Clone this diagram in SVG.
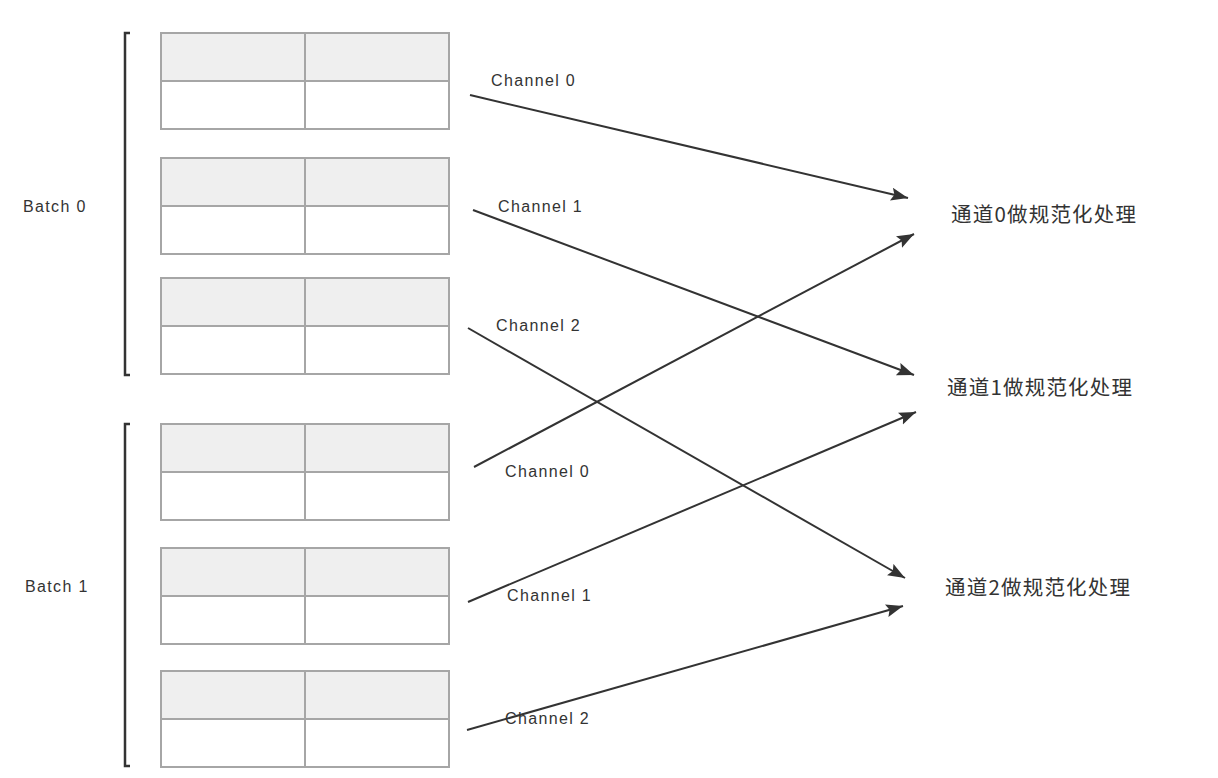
<svg xmlns="http://www.w3.org/2000/svg" width="1218" height="778" viewBox="0 0 1218 778">
<style>
.cell{stroke:#a6a6a6;stroke-width:2;}
.hd{fill:#efefef;}
.bd{fill:#ffffff;}
.br{fill:none;stroke:#333;stroke-width:2.5;}
.lab{font-family:"Helvetica","Liberation Sans",Arial,sans-serif;font-size:16px;letter-spacing:1.35px;fill:#333;}
.cn{font-family:"Noto Sans CJK SC","Noto Sans",sans-serif;font-size:20.5px;letter-spacing:1.2px;fill:#333;}
.ar{stroke:#333;stroke-width:2;fill:none;marker-end:url(#ah);}
</style>
<defs>
<marker id="ah" markerUnits="userSpaceOnUse" markerWidth="20" markerHeight="16" refX="17" refY="6.5" orient="auto">
<path d="M0,0 L17,6.5 L0,13 L3,6.5 Z" fill="#333"/>
</marker>
<g id="grid">
<rect class="cell hd" x="161" y="0" width="144" height="48"/>
<rect class="cell hd" x="305" y="0" width="144" height="48"/>
<rect class="cell bd" x="161" y="48" width="144" height="48"/>
<rect class="cell bd" x="305" y="48" width="144" height="48"/>
</g>
</defs>
<rect width="1218" height="778" fill="#fff"/>
<g id="batch0">
<path class="br" d="M130,33 L125,33 L125,375 L130,375"/>
<text class="lab" x="23" y="212">Batch 0</text>
</g>
<g id="batch1">
<path class="br" d="M130,424 L125,424 L125,766 L130,766"/>
<text class="lab" x="25" y="592">Batch 1</text>
</g>
<g id="b0c0"><use href="#grid" y="33"/></g>
<g id="b0c1"><use href="#grid" y="158"/></g>
<g id="b0c2"><use href="#grid" y="278"/></g>
<g id="b1c0"><use href="#grid" y="424"/></g>
<g id="b1c1"><use href="#grid" y="548"/></g>
<g id="b1c2"><use href="#grid" y="671"/></g>
<g id="norm0"><text class="cn" x="951" y="222">通道0做规范化处理</text></g>
<g id="norm1"><text class="cn" x="947" y="395">通道1做规范化处理</text></g>
<g id="norm2"><text class="cn" x="945" y="595">通道2做规范化处理</text></g>
<g id="connectors">
<line class="ar" x1="470" y1="95" x2="908" y2="198"/>
<line class="ar" x1="473" y1="210" x2="914" y2="375"/>
<line class="ar" x1="468" y1="328" x2="905" y2="578"/>
<line class="ar" x1="474" y1="467" x2="914" y2="234"/>
<line class="ar" x1="468" y1="602" x2="916" y2="412"/>
<line class="ar" x1="467" y1="730" x2="903" y2="606"/>
<text class="lab" x="491" y="86">Channel 0</text>
<text class="lab" x="498" y="212">Channel 1</text>
<text class="lab" x="496" y="331">Channel 2</text>
<text class="lab" x="505" y="477">Channel 0</text>
<text class="lab" x="507" y="601">Channel 1</text>
<text class="lab" x="505" y="724">Channel 2</text>
</g>
</svg>
